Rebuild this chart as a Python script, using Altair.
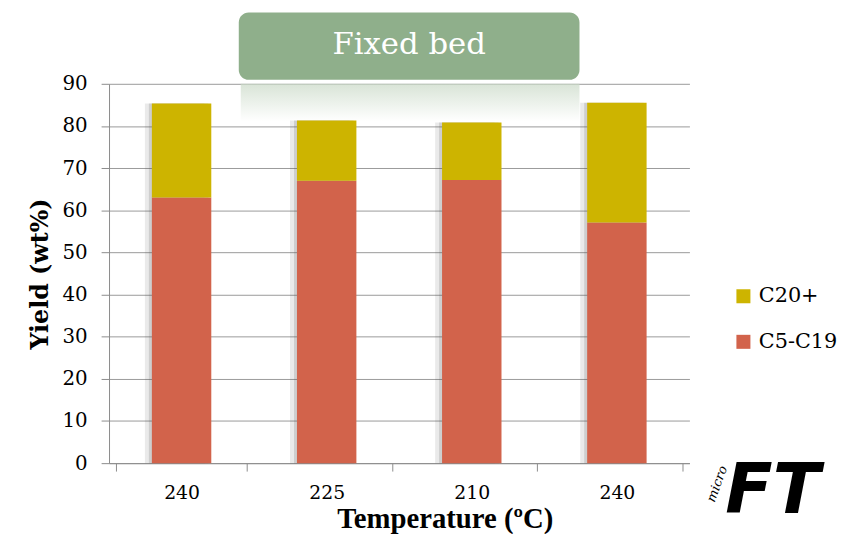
import altair as alt
import pandas as pd

temps = ["240", "225", "210", "240"]
c5_c19 = [63.0, 67.0, 67.2, 57.1]
c20_plus = [22.3, 14.3, 13.6, 28.4]
series = ["C20+", "C5-C19"]
colors = ["#CDB400", "#D2634B"]

rows = []
for i, t in enumerate(temps):
    rows.append({"idx": i, "series": "C5-C19", "value": c5_c19[i], "ord": 0})
    rows.append({"idx": i, "series": "C20+", "value": c20_plus[i], "ord": 1})
df = pd.DataFrame(rows)
tot_df = pd.DataFrame({"idx": list(range(len(temps))),
                       "total": [a + b for a, b in zip(c5_c19, c20_plus)]})

label_expr = "[" + ",".join("'%s'" % t for t in temps) + "][datum.value]"

W, H = 586, 383
FONT = "DejaVu Serif"

x_enc = alt.X("idx:O", title="Temperature (ºC)",
              axis=alt.Axis(labelExpr=label_expr, labelAngle=0, tickBand="extent",
                            labelPadding=13, tickSize=8, titlePadding=2,
                            titleX=339, titleAlign="center", titleAnchor="start"))
y_scale = alt.Scale(domain=[0, 90])

shadow1 = alt.Chart(tot_df).mark_bar(size=60, color="#555555", opacity=0.12, xOffset=-7).encode(
    x=x_enc, y=alt.Y("total:Q", scale=y_scale))
shadow2 = alt.Chart(tot_df).mark_bar(size=60, color="#555555", opacity=0.18, xOffset=-3).encode(
    x=x_enc, y=alt.Y("total:Q", scale=y_scale))

bars = alt.Chart(df).mark_bar(size=60).encode(
    x=x_enc,
    y=alt.Y("value:Q", stack="zero", title="Yield (wt%)",
            scale=y_scale,
            axis=alt.Axis(values=list(range(0, 100, 10)), tickSize=8, labelPadding=14,
                          titlePadding=10)),
    color=alt.Color("series:N", scale=alt.Scale(domain=series, range=colors),
                    legend=alt.Legend(title=None, orient="none", legendX=630, legendY=204,
                                      symbolType="square", symbolSize=200,
                                      symbolStrokeWidth=0, labelFontSize=21,
                                      labelFont=FONT, rowPadding=24, labelOffset=5)),
    order=alt.Order("ord:Q"),
)

box_df = pd.DataFrame({"t": ["Fixed bed"]})
reflect = alt.Chart(box_df).mark_rect(
    color=alt.Gradient(gradient="linear", x1=0, x2=0, y1=0, y2=1,
                       stops=[alt.GradientStop(color="#C8D8C5", offset=0),
                              alt.GradientStop(color="#FFFFFF", offset=1)]),
    opacity=0.7).encode(
    x=alt.value(133), x2=alt.value(475), y=alt.value(0), y2=alt.value(38))
box = alt.Chart(box_df).mark_rect(color="#8FAF8B", cornerRadius=10).encode(
    x=alt.value(131), x2=alt.value(475), y=alt.value(-72), y2=alt.value(-4))
box_text = alt.Chart(box_df).mark_text(color="white", font=FONT, fontSize=31,
                                        baseline="middle", align="center").encode(
    x=alt.value(303), y=alt.value(-39), text="t:N")

logo_df = pd.DataFrame({"a": ["FT"], "b": ["micro"]})
logo = alt.Chart(logo_df).mark_text(font="DejaVu Sans", fontSize=70, fontWeight="bold",
                                     fontStyle="italic", color="black", align="center",
                                     baseline="alphabetic").encode(
    x=alt.value(670), y=alt.value(433), text="a:N")
micro = alt.Chart(logo_df).mark_text(font=FONT, fontSize=13, fontStyle="italic",
                                      color="black", angle=290, align="center",
                                      baseline="middle").encode(
    x=alt.value(614), y=alt.value(404), text="b:N")

chart = alt.layer(reflect, shadow1, shadow2, bars, box, box_text, logo, micro).properties(
    width=W, height=H,
    autosize=alt.AutoSizeParams(type="none"),
    padding={"left": 102, "top": 74, "right": 150, "bottom": 70},
).configure_view(stroke=None).configure_axis(
    labelFont=FONT, labelFontSize=20, labelColor="black",
    titleFont=FONT, titleFontSize=24, titleColor="black", titleFontWeight="bold",
    domainColor="#8C8C8C", tickColor="#8C8C8C", gridColor="#9A9A9A", gridWidth=1,
).configure_axisX(grid=False, titleFont="Liberation Serif", titleFontSize=29,
                  labelFontSize=19
).configure_axisY(grid=True)

chart.save("out.html", embed_options={"renderer": "svg", "actions": False})
